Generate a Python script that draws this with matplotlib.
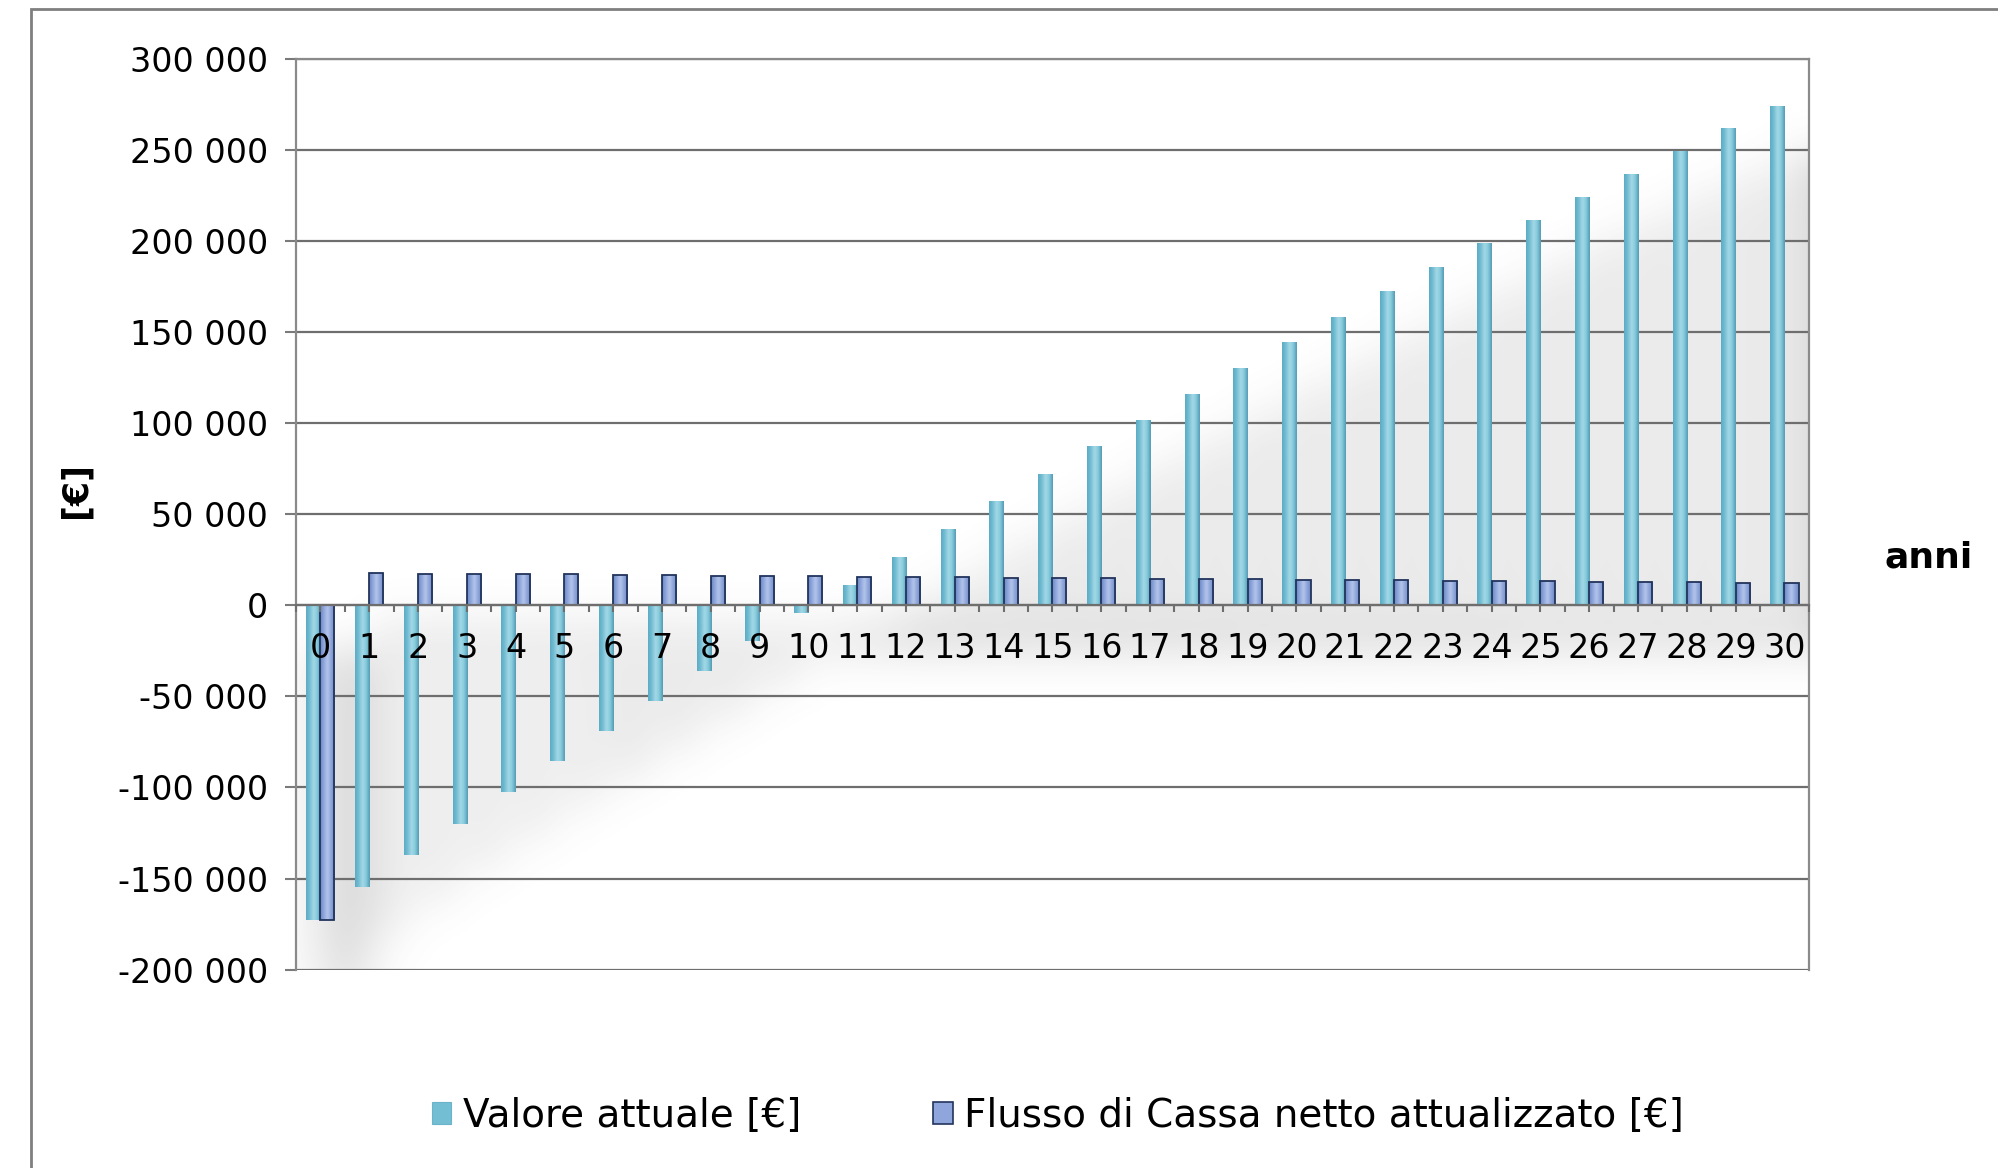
import numpy as np
import matplotlib.pyplot as plt
from matplotlib.colors import LinearSegmentedColormap
from matplotlib.patches import Patch, Rectangle
from matplotlib.ticker import FuncFormatter, FixedLocator

# Years of the investment horizon
anni = list(range(31))

# Cumulative discounted value (NPV curve) per year [EUR]
valore_attuale = [-172500, -154600, -137300, -119800, -102700, -85700, -68900,
                  -52700, -36000, -19600, -4200, 10900, 26600, 41800, 57000,
                  72100, 87100, 101600, 115900, 130100, 144300, 158300, 172200,
                  185400, 198500, 211300, 224000, 236800, 249500, 261800, 273800]

# Discounted net cash flow per year [EUR]
flusso_attualizzato = [-172500, 17500, 17400, 17200, 17100, 16900, 16700, 16500,
                       16300, 16100, 15900, 15700, 15500, 15300, 15100, 14900,
                       14800, 14600, 14400, 14200, 14000, 13800, 13600, 13400,
                       13300, 13100, 12900, 12700, 12600, 12400, 12200]

y_ticks = list(range(-200000, 300001, 50000))

label_va = "Valore attuale [€]"
label_fc = "Flusso di Cassa netto attualizzato [€]"

plt.rcParams['font.family'] = ['DejaVu Sans']

teal_cmap = LinearSegmentedColormap.from_list(
    "teal", ["#5aabc4", "#74bed3", "#a4d8e6", "#86cadc", "#529bb4"])
blue_cmap = LinearSegmentedColormap.from_list(
    "blue", ["#6a85c3", "#8ea6dc", "#b4c5ea", "#8fa5da", "#6d87c4"])

fig = plt.figure(figsize=(19.98, 11.68), dpi=100)
ax = fig.add_axes([0.1481, 0.1698, 0.7572, 0.7801])

x = np.arange(len(anni))
w = 0.29

# soft drop shadow behind the bars
nx, ny = 620, 500
xs = np.linspace(-0.5, 30.5, nx)
ys = np.linspace(-200000, 300000, ny)
X, Y = np.meshgrid(xs, ys)
dens = np.zeros_like(X)
sdx, sdy = 0.5, -25000
for left, vals in ((x - w, valore_attuale), (x, flusso_attualizzato)):
    for l, v in zip(left, vals):
        m = ((X >= l + sdx) & (X <= l + w + sdx) &
             (Y >= min(0, v) + sdy) & (Y <= max(0, v) + sdy))
        dens[m] = 1.0


def gauss_matrix(n, sigma):
    i = np.arange(n)
    k = np.exp(-0.5 * ((i[:, None] - i[None, :]) / sigma) ** 2)
    return k / k.sum(axis=1, keepdims=True)


dens = gauss_matrix(ny, 12) @ dens @ gauss_matrix(nx, 10).T
shadow = np.zeros((ny, nx, 4))
shadow[..., :3] = 0.35
shadow[..., 3] = np.clip(dens * 0.4, 0, 0.3)
ax.imshow(shadow, origin='lower', extent=[-0.5, 30.5, -200000, 300000],
          aspect='auto', zorder=0.5, interpolation='bilinear')

# horizontal gridlines
for v in y_ticks:
    ax.axhline(v, color='#6e6e6e', lw=1.6, zorder=1)

bars_va = ax.bar(x - w / 2, valore_attuale, width=w, color='#74bed3',
                 edgecolor='none', zorder=2)
bars_fc = ax.bar(x + w / 2, flusso_attualizzato, width=w, color='#8ea6dc',
                 edgecolor='none', zorder=2)

grad = np.linspace(0, 1, 64).reshape(1, -1)
for bars, cmap in ((bars_va, teal_cmap), (bars_fc, blue_cmap)):
    for b in bars:
        x0, y0 = b.get_xy()
        bw, bh = b.get_width(), b.get_height()
        im = ax.imshow(grad, cmap=cmap, aspect='auto', zorder=2.01,
                       extent=[x0, x0 + bw, min(y0, y0 + bh), max(y0, y0 + bh)],
                       interpolation='bicubic')
        im.set_clip_path(b)

ax.bar(x + w / 2, flusso_attualizzato, width=w, fill=False,
       edgecolor='#22345c', lw=1.3, zorder=2.02)

ax.set_xlim(-0.5, 30.5)
ax.set_ylim(-200000, 300000)

# frame
for side in ('left', 'right', 'top'):
    ax.spines[side].set_color('#8a8a8a')
    ax.spines[side].set_linewidth(1.6)
ax.spines['bottom'].set_position(('data', 0))
ax.spines['bottom'].set_color('#6e6e6e')
ax.spines['bottom'].set_linewidth(1.6)

ax.yaxis.set_major_locator(FixedLocator(y_ticks))
ax.yaxis.set_major_formatter(
    FuncFormatter(lambda v, p: f"{v:,.0f}".replace(",", " ")))
ax.tick_params(axis='y', direction='out', length=8, width=1.5,
               color='#7a7a7a', labelsize=24, pad=12)

ax.set_xticks(x)
ax.set_xticklabels([str(a) for a in anni])
ax.set_xticks(np.arange(-0.5, 31, 1), minor=True)
ax.tick_params(axis='x', which='both', direction='out', length=5, width=1.5,
               color='#6e6e6e')
ax.tick_params(axis='x', which='major', labelsize=24, pad=14)
ax.xaxis.set_zorder(5)

fig.text(76 / 1998, 1 - 490 / 1168, "[€]", rotation=90, fontsize=25,
         fontweight='bold', ha='center', va='center')
fig.text(1929 / 1998, 1 - 558 / 1168, "anni", fontsize=26,
         fontweight='bold', ha='center', va='center')

handles = [Patch(facecolor='#74bed3', edgecolor='#6ab3c9', lw=0.8),
           Patch(facecolor='#8ea6dc', edgecolor='#22345c', lw=1.2)]
fig.legend(handles, [label_va, label_fc], loc='center',
           bbox_to_anchor=(1058 / 1998, 1 - 1116 / 1168), ncol=2,
           frameon=False, fontsize=28, handlelength=0.5, handleheight=0.5,
           handletextpad=0.3, columnspacing=3.4)

# chart area border
fig.patches.append(Rectangle((31 / 1998, -0.05), 1.1, 1 - 9 / 1168 + 0.05,
                             transform=fig.transFigure, fill=False,
                             edgecolor='#7f7f7f', lw=2))

fig.savefig("out.png", dpi=100, facecolor='white')
